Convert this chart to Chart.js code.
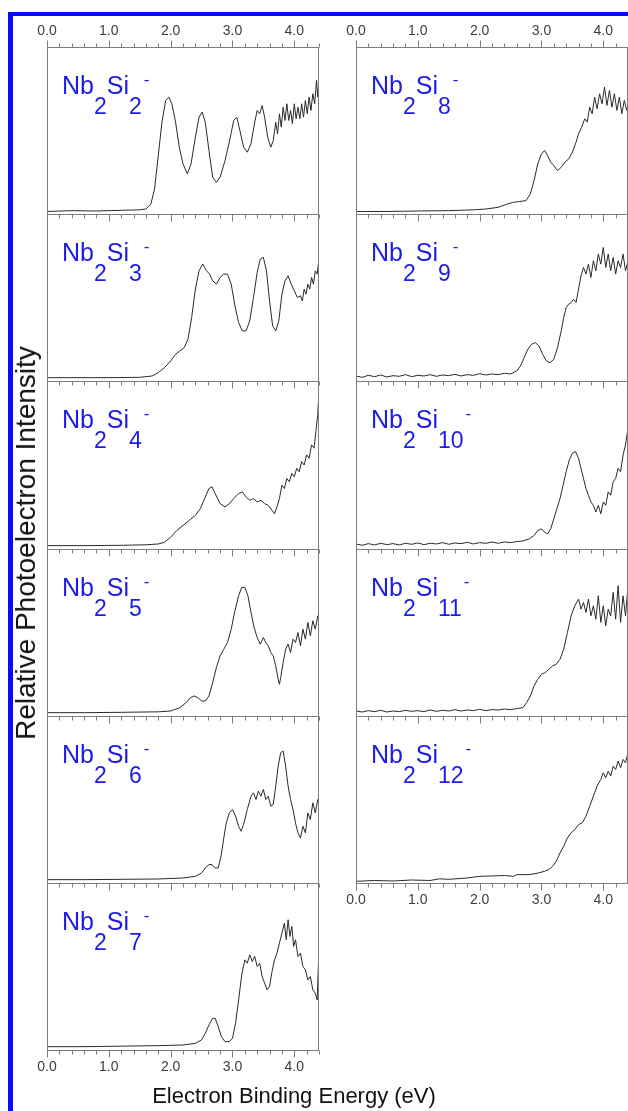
<!DOCTYPE html>
<html>
<head>
<meta charset="utf-8">
<title>Nb2Sin- photoelectron spectra</title>
<script src="https://cdn.jsdelivr.net/npm/chart.js"></script>
<style>
  body { margin: 0; width: 628px; height: 1111px; overflow: hidden; position: relative; background: #fff;
         font-family: Arial, "Liberation Sans", sans-serif; }
  #frame { position: absolute; left: 8px; top: 12px; width: 700px; height: 1200px;
           border-left: 5px solid #0a0aff; border-top: 4px solid #0a0aff; }
  canvas { position: absolute; }
  #ytitle { position: absolute; left: 26px; top: 543px; transform: translate(-50%, -50%) rotate(-90deg);
            white-space: nowrap; font-size: 28px; color: #111; }
  #xtitle { position: absolute; left: 294px; top: 1096px; transform: translate(-50%, -50%);
            white-space: nowrap; font-size: 22px; color: #111; }
</style>
</head>
<body>
<div id="frame"></div>
<div id="charts"></div>
<div id="ytitle">Relative Photoelectron Intensity</div>
<div id="xtitle">Electron Binding Energy (eV)</div>
<script>
// spectra: [binding energy (eV), relative intensity]
const nb2si2 = [[0,1.5],[0.4,2],[0.8,1.8],[1.2,2.2],[1.5,2.5],[1.6,3],[1.68,6],[1.74,15],[1.8,35],[1.86,55],[1.92,68],[1.97,70],[2.02,66],[2.08,55],[2.14,40],[2.2,30],[2.27,24],[2.33,30],[2.4,46],[2.46,58],[2.51,61],[2.56,55],[2.62,38],[2.68,22],[2.74,19],[2.8,22],[2.88,32],[2.96,45],[3.02,56],[3.07,58],[3.12,50],[3.18,40],[3.24,37],[3.3,42],[3.36,55],[3.4,62],[3.44,60],[3.48,65],[3.52,58],[3.57,46],[3.62,40],[3.66,44],[3.7,55],[3.73,48],[3.76,60],[3.79,52],[3.82,64],[3.85,56],[3.88,66],[3.91,56],[3.94,62],[3.97,54],[4.0,66],[4.03,57],[4.06,64],[4.09,57],[4.12,66],[4.15,58],[4.18,68],[4.21,60],[4.24,70],[4.27,62],[4.3,72],[4.33,66],[4.36,80],[4.38,70],[4.4,80]];
const nb2si3 = [[0,2],[0.5,2],[1.0,2],[1.5,2.2],[1.7,3],[1.8,5],[1.9,8],[2.0,12],[2.08,16],[2.15,18],[2.22,20],[2.28,25],[2.34,38],[2.4,55],[2.46,66],[2.52,70],[2.58,66],[2.63,64],[2.68,60],[2.74,58],[2.8,62],[2.86,64],[2.92,64],[2.98,58],[3.04,45],[3.1,35],[3.16,30],[3.22,30],[3.28,36],[3.34,50],[3.4,65],[3.45,73],[3.5,74],[3.55,66],[3.6,48],[3.65,33],[3.7,30],[3.75,36],[3.8,52],[3.85,60],[3.9,63],[3.95,58],[4.0,54],[4.05,50],[4.1,51],[4.13,48],[4.16,55],[4.19,52],[4.22,58],[4.25,55],[4.28,62],[4.31,58],[4.34,66],[4.37,64],[4.4,73]];
const nb2si4 = [[0,2],[0.6,2],[1.2,2.2],[1.6,2.5],[1.8,3],[1.9,4],[2.0,7],[2.1,11],[2.2,14],[2.3,17],[2.4,20],[2.48,24],[2.55,30],[2.62,36],[2.67,37],[2.72,33],[2.8,27],[2.88,25],[2.95,27],[3.02,30],[3.1,33],[3.16,34],[3.22,31],[3.28,29],[3.34,30],[3.4,28],[3.46,29],[3.52,27],[3.58,26],[3.64,23],[3.68,21],[3.72,25],[3.76,30],[3.8,38],[3.84,36],[3.88,42],[3.92,40],[3.96,45],[4.0,43],[4.04,48],[4.08,46],[4.12,52],[4.16,50],[4.2,56],[4.24,54],[4.28,62],[4.32,60],[4.35,70],[4.38,80],[4.4,94]];
const nb2si5 = [[0,2],[0.6,2],[1.2,2.2],[1.8,2.5],[2.0,3],[2.15,5],[2.25,8],[2.32,11],[2.38,12],[2.44,11],[2.5,9],[2.56,9],[2.62,12],[2.68,20],[2.74,29],[2.8,36],[2.86,40],[2.92,44],[2.98,52],[3.04,63],[3.1,72],[3.15,77],[3.2,77],[3.25,72],[3.3,62],[3.35,53],[3.4,47],[3.45,43],[3.5,47],[3.54,44],[3.58,42],[3.62,38],[3.66,36],[3.7,30],[3.74,22],[3.76,19],[3.78,23],[3.82,32],[3.86,40],[3.9,43],[3.94,38],[3.98,46],[4.02,44],[4.06,50],[4.1,42],[4.14,52],[4.18,46],[4.22,56],[4.26,48],[4.3,57],[4.34,52],[4.38,60],[4.4,56]];
const nb2si6 = [[0,2],[0.6,2],[1.2,2.2],[1.8,2.4],[2.2,3],[2.4,4],[2.5,6],[2.56,9],[2.62,11],[2.67,11],[2.72,9],[2.77,9],[2.82,17],[2.86,27],[2.9,36],[2.95,42],[3.0,44],[3.05,40],[3.1,34],[3.14,31],[3.18,35],[3.24,44],[3.3,52],[3.34,54],[3.38,50],[3.42,55],[3.46,52],[3.5,56],[3.54,50],[3.58,52],[3.62,46],[3.66,47],[3.7,58],[3.74,70],[3.78,78],[3.82,79],[3.86,70],[3.9,58],[3.94,50],[3.98,44],[4.02,36],[4.06,30],[4.1,27],[4.14,34],[4.18,30],[4.22,42],[4.26,38],[4.3,48],[4.34,42],[4.38,50],[4.4,47]];
const nb2si7 = [[0,2],[0.6,2],[1.2,2.3],[1.8,2.6],[2.2,3],[2.4,4],[2.5,6],[2.56,10],[2.62,15],[2.68,19],[2.72,19],[2.77,14],[2.82,8],[2.88,5],[2.95,5],[3.0,7],[3.05,16],[3.1,30],[3.15,45],[3.2,54],[3.24,52],[3.28,57],[3.32,53],[3.36,56],[3.4,50],[3.44,52],[3.48,44],[3.52,40],[3.56,36],[3.6,38],[3.64,47],[3.68,54],[3.72,58],[3.76,64],[3.8,70],[3.84,76],[3.87,66],[3.9,78],[3.93,68],[3.96,74],[3.99,62],[4.02,66],[4.06,56],[4.1,58],[4.14,50],[4.18,48],[4.22,42],[4.26,44],[4.3,36],[4.34,34],[4.37,30],[4.39,50],[4.4,68]];
const nb2si8 = [[0,1.5],[0.5,1.5],[1.0,1.8],[1.5,2],[1.9,2.5],[2.1,3],[2.3,4],[2.45,6],[2.55,7],[2.65,7.5],[2.75,8],[2.82,12],[2.88,20],[2.94,30],[3.0,36],[3.05,38],[3.1,35],[3.15,31],[3.2,29],[3.26,26],[3.32,28],[3.38,31],[3.44,33],[3.5,37],[3.56,43],[3.6,48],[3.65,52],[3.7,57],[3.74,55],[3.78,64],[3.82,60],[3.86,70],[3.9,63],[3.94,72],[3.98,66],[4.02,76],[4.06,65],[4.1,74],[4.14,64],[4.18,72],[4.22,62],[4.26,70],[4.3,60],[4.34,68],[4.38,62],[4.4,66]];
const nb2si9 = [[0,3],[0.1,2.2],[0.2,3.4],[0.3,2.6],[0.4,3.6],[0.5,2.4],[0.6,3.2],[0.7,2.8],[0.8,3.8],[0.9,2.6],[1.0,3.4],[1.1,3],[1.2,3.8],[1.3,2.8],[1.4,3.6],[1.5,3.2],[1.6,4],[1.7,3],[1.8,3.8],[1.9,3.4],[2.0,4.4],[2.1,3.6],[2.2,4.2],[2.3,3.8],[2.4,4.6],[2.5,4.2],[2.6,6],[2.66,9],[2.72,14],[2.78,19],[2.84,22],[2.9,23],[2.96,21],[3.02,16],[3.08,12],[3.14,11],[3.2,13],[3.26,20],[3.32,30],[3.36,38],[3.4,44],[3.44,46],[3.48,47],[3.52,49],[3.56,47],[3.6,55],[3.64,63],[3.68,68],[3.72,64],[3.76,70],[3.8,62],[3.84,72],[3.88,66],[3.92,76],[3.96,70],[4.0,80],[4.04,68],[4.08,76],[4.12,66],[4.16,74],[4.2,64],[4.24,72],[4.28,68],[4.32,76],[4.36,66],[4.4,72]];
const nb2si10 = [[0,3],[0.1,2.2],[0.2,3.2],[0.3,2.4],[0.4,3.4],[0.5,2.6],[0.6,3.2],[0.7,2.4],[0.8,3.4],[0.9,2.8],[1.0,3.6],[1.1,2.6],[1.2,3.4],[1.3,3],[1.4,3.8],[1.5,2.8],[1.6,3.6],[1.7,3.2],[1.8,4],[1.9,3],[2.0,3.8],[2.1,3.4],[2.2,4.2],[2.3,3.4],[2.4,4.2],[2.5,3.8],[2.6,4.4],[2.7,4.8],[2.8,6],[2.88,8],[2.94,11],[3.0,12],[3.05,10],[3.1,9],[3.15,12],[3.2,18],[3.25,24],[3.3,30],[3.35,38],[3.4,46],[3.45,53],[3.5,57],[3.55,58],[3.6,54],[3.64,48],[3.68,42],[3.72,36],[3.76,32],[3.8,28],[3.84,26],[3.88,22],[3.92,26],[3.96,21],[4.0,28],[4.04,26],[4.08,34],[4.12,32],[4.16,40],[4.2,42],[4.24,48],[4.28,46],[4.32,56],[4.36,62],[4.4,72]];
const nb2si11 = [[0,3],[0.1,2.4],[0.2,3.2],[0.3,2.6],[0.4,3.4],[0.5,2.4],[0.6,3],[0.7,2.6],[0.8,3.4],[0.9,2.8],[1.0,3.2],[1.1,2.6],[1.2,3.6],[1.3,2.8],[1.4,3.4],[1.5,3],[1.6,3.8],[1.7,3],[1.8,3.6],[1.9,3.2],[2.0,4],[2.1,3.2],[2.2,3.8],[2.3,3.6],[2.4,4.2],[2.5,3.8],[2.6,4.4],[2.7,5],[2.76,8],[2.82,12],[2.88,18],[2.94,22],[3.0,25],[3.06,26],[3.12,28],[3.18,30],[3.24,31],[3.3,34],[3.36,40],[3.42,50],[3.48,60],[3.54,66],[3.6,70],[3.64,64],[3.68,68],[3.72,62],[3.76,70],[3.8,60],[3.84,66],[3.88,58],[3.92,72],[3.96,56],[4.0,66],[4.04,54],[4.08,64],[4.12,60],[4.16,74],[4.2,58],[4.24,78],[4.28,56],[4.32,72],[4.36,60],[4.4,78]];
const nb2si12 = [[0,1],[0.3,1.5],[0.6,1.2],[0.9,1.8],[1.2,1.5],[1.35,2.5],[1.5,2.2],[1.8,3],[2.0,4],[2.2,4.2],[2.4,4.5],[2.55,4],[2.6,5],[2.8,5],[2.95,6],[3.05,7],[3.12,8],[3.18,10],[3.24,13],[3.3,18],[3.36,22],[3.42,27],[3.48,30],[3.54,32],[3.6,35],[3.66,36],[3.72,40],[3.78,46],[3.84,52],[3.9,58],[3.96,62],[4.0,66],[4.04,63],[4.08,67],[4.12,64],[4.16,70],[4.2,68],[4.24,73],[4.28,69],[4.32,74],[4.36,72],[4.4,78]];

const leftColumn = [2, 3, 4, 5, 6, 7];
const rightColumn = [8, 9, 10, 11, 12];
const spectra = { 2: nb2si2, 3: nb2si3, 4: nb2si4, 5: nb2si5, 6: nb2si6, 7: nb2si7,
                  8: nb2si8, 9: nb2si9, 10: nb2si10, 11: nb2si11, 12: nb2si12 };

const X_MAX = 4.4;
const PAD = 20, PAD_T = 40, PAD_B = 40, AX_H = 30;
const COL_LEFT = [47, 356];
const TOP = 47, PANEL_W = 272, PANEL_H = 167.2;
const AXIS = '#7d7d7d', LINE = '#2a2a2a', BLUE = '#1c1ce6';
const FONT = 'Arial, "Liberation Sans", sans-serif';

// frame, tick marks and the Nb2Sin- label for one panel
function panelPlugin(n, isTop) {
  return {
    id: 'panel' + n,
    afterDraw(chart) {
      const ctx = chart.ctx, a = chart.chartArea, x = chart.scales.x;
      ctx.save();
      ctx.strokeStyle = AXIS;
      ctx.lineWidth = 1;
      ctx.strokeRect(Math.round(a.left) + 0.5, Math.round(a.top) + 0.5,
                     Math.round(a.right - a.left) - 1, Math.round(a.bottom - a.top));
      ctx.beginPath();
      for (let i = 0; i <= 22; i++) {
        const v = i * 0.2;
        const px = Math.round(x.getPixelForValue(v)) + 0.5;
        const len = i % 5 === 0 ? 7 : 4;
        const b = Math.round(a.bottom) + 0.5;
        ctx.moveTo(px, b); ctx.lineTo(px, b + len);
        if (isTop) {
          const t = Math.round(a.top) + 0.5;
          ctx.moveTo(px, t); ctx.lineTo(px, t - len);
        }
      }
      ctx.stroke();

      // label with sub/superscripts
      let lx = a.left + 15;
      const ly = a.top + 47;
      ctx.fillStyle = BLUE;
      ctx.textBaseline = 'alphabetic';
      const part = (txt, size, dy) => {
        ctx.font = size + 'px ' + FONT;
        ctx.fillText(txt, lx, ly + dy);
        lx += ctx.measureText(txt).width;
      };
      part('Nb', 25, 0);
      part('2', 23, 20);
      part('Si', 25, 0);
      part(String(n), 23, 20);
      lx += 2;
      part('-', 17, -9);
      ctx.restore();
    }
  };
}

function makePanel(n, col, row, isTop, isBottom) {
  const left = COL_LEFT[col];
  const top = Math.round(TOP + row * PANEL_H);
  const h = Math.round(TOP + (row + 1) * PANEL_H) - top;
  const canvas = document.createElement('canvas');
  canvas.width = PANEL_W + 2 * PAD;
  canvas.height = h + PAD_T + PAD_B;
  canvas.style.left = (left - PAD) + 'px';
  canvas.style.top = (top - PAD_T) + 'px';
  document.getElementById('charts').appendChild(canvas);

  const tickOpts = (padding) => ({
    stepSize: 1,
    includeBounds: false,
    autoSkip: false,
    maxRotation: 0,
    padding: padding,
    color: '#3c3c3c',
    font: { family: FONT, size: 14 },
    callback: v => Number(v).toFixed(1)
  });
  // shown axes get a fixed height, hidden ones none, so the plot area is exact
  const fixHeight = s => { s.height = s.options.display ? AX_H : 0; };

  new Chart(canvas, {
    type: 'line',
    data: {
      datasets: [{
        data: spectra[n].map(p => ({ x: p[0], y: p[1] })),
        borderColor: LINE,
        borderWidth: 1,
        pointRadius: 0,
        tension: 0
      }]
    },
    options: {
      responsive: false,
      animation: false,
      layout: { padding: { left: PAD, right: PAD,
                           top: isTop ? PAD_T - AX_H : PAD_T,
                           bottom: isBottom ? PAD_B - AX_H : PAD_B } },
      plugins: { legend: { display: false }, tooltip: { enabled: false } },
      scales: {
        x: {
          type: 'linear', position: 'bottom', min: 0, max: X_MAX,
          display: isBottom,
          grid: { display: false, drawTicks: false },
          border: { display: false },
          ticks: tickOpts(9),
          afterFit: fixHeight
        },
        xTop: {
          type: 'linear', position: 'top', min: 0, max: X_MAX,
          display: isTop,
          grid: { display: false, drawTicks: false },
          border: { display: false },
          ticks: tickOpts(7),
          afterFit: fixHeight
        },
        y: { display: false, min: 0, max: 100 }
      }
    },
    plugins: [panelPlugin(n, isTop)]
  });
}

leftColumn.forEach((n, i) => makePanel(n, 0, i, i === 0, i === leftColumn.length - 1));
rightColumn.forEach((n, i) => makePanel(n, 1, i, i === 0, i === rightColumn.length - 1));
</script>
</body>
</html>
